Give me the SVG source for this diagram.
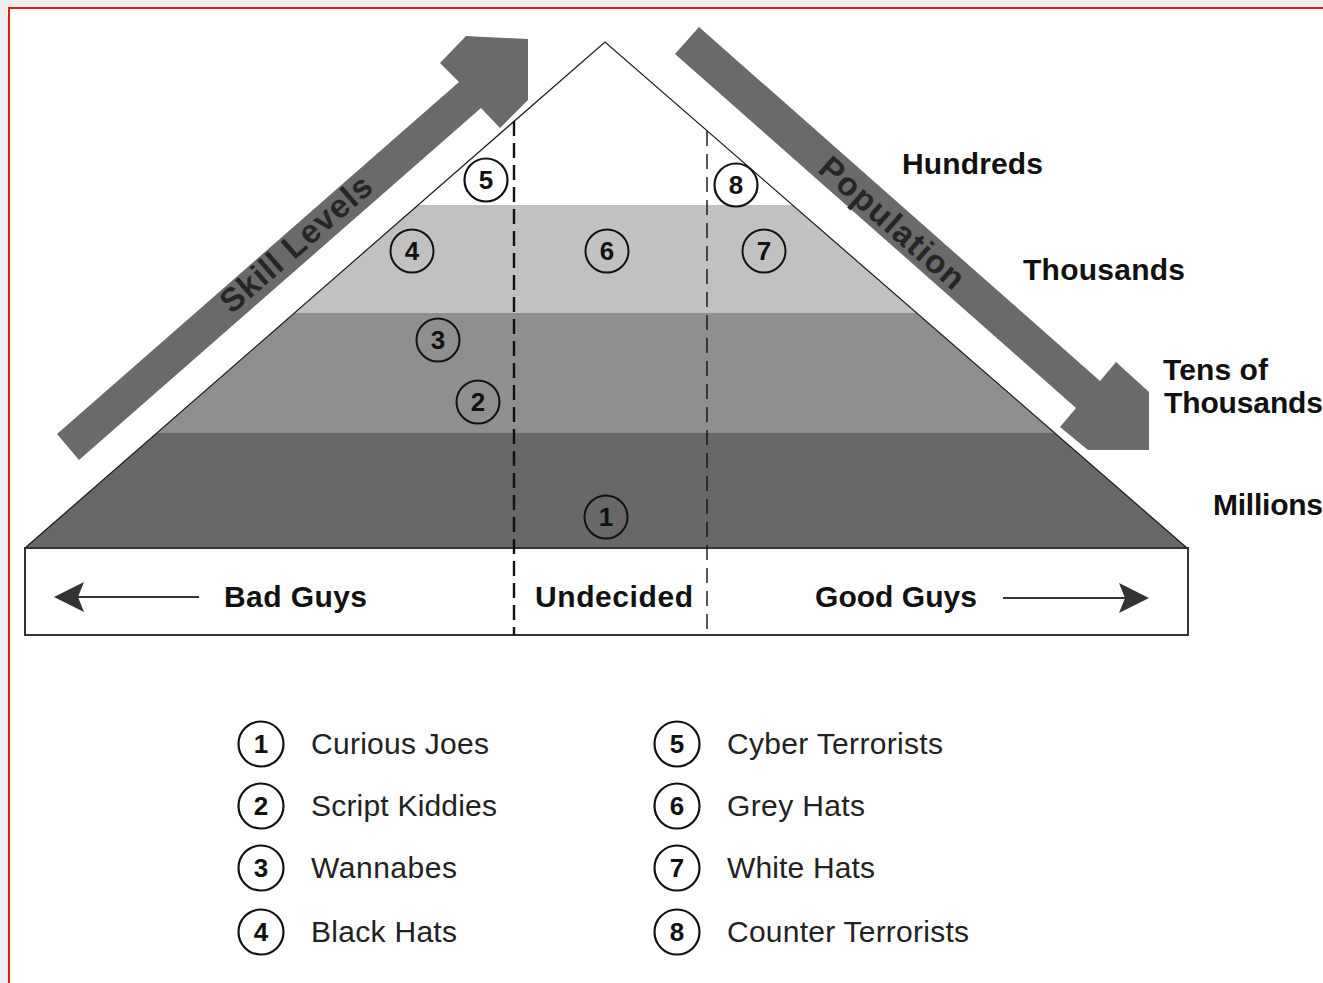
<svg xmlns="http://www.w3.org/2000/svg" width="1323" height="983" viewBox="0 0 1323 983">
  <style>
    .lbl { font-family: "Liberation Sans", Arial, sans-serif; font-weight: bold; font-size: 30px; fill: #111; }
    .bar { font-family: "Liberation Sans", Arial, sans-serif; font-weight: bold; font-size: 30px; fill: #111; }
    .leg { font-family: "Liberation Sans", Arial, sans-serif; font-size: 30px; fill: #222; }
    .num { font-family: "Liberation Sans", Arial, sans-serif; font-weight: bold; font-size: 26px; fill: #111; text-anchor: middle; }
    .ring { fill: none; stroke: #111; stroke-width: 2; }
    .ringw { fill: #fff; stroke: #111; stroke-width: 2.2; }
    .arrow { fill: #6a6a6a; }
    .atext { font-family: "Liberation Sans", Arial, sans-serif; font-weight: bold; font-size: 33px; fill: #262626; text-anchor: middle; }
  </style>
  <defs>
    <clipPath id="tri">
      <polygon points="605,42 25,548 1187,548"/>
    </clipPath>
    <marker id="head" viewBox="0 0 30 30" refX="28" refY="15" markerWidth="30" markerHeight="30" markerUnits="userSpaceOnUse" orient="auto-start-reverse">
      <polygon points="0,0 30,15 0,30 6,15" fill="#333"/>
    </marker>
  </defs>

  <!-- page and frame -->
  <rect x="0" y="0" width="1323" height="983" fill="#efefef"/>
  <rect x="10" y="9" width="1313" height="974" fill="#fff"/>
  <polyline points="9,983 9,8 1323,8" fill="none" stroke="#e41b1b" stroke-width="2"/>

  <!-- pyramid layers -->
  <g id="pyramid">
    <g clip-path="url(#tri)">
      <rect x="0" y="40" width="1323" height="165" fill="#fff"/>
      <rect x="0" y="205" width="1323" height="108" fill="#c1c1c1"/>
      <rect x="0" y="313" width="1323" height="120" fill="#8f8f8f"/>
      <rect x="0" y="433" width="1323" height="116" fill="#686868"/>
    </g>
    <polyline points="25,548 605,42 1187,548" fill="none" stroke="#1a1a1a" stroke-width="1.2"/>
  </g>

  <!-- side arrows -->
  <g id="skill-arrow">
    <polygon class="arrow" points="57,434 459,82 440,63 466,36 528,39 528,100 500,128 481,108 79,460"/>
    <text class="atext" transform="translate(296,244) rotate(-41.2)" y="11" textLength="190">Skill Levels</text>
  </g>
  <g id="population-arrow">
    <polygon class="arrow" points="675,54 699,27 1100,381 1116,362 1149,392 1149,450 1088,450 1060,427 1076,408"/>
    <text class="atext" transform="translate(892,223) rotate(41.4)" y="11" textLength="182">Population</text>
  </g>

  <!-- population labels -->
  <g id="population-labels">
    <text class="lbl" x="902" y="174" textLength="141">Hundreds</text>
    <text class="lbl" x="1023" y="280" textLength="162">Thousands</text>
    <text class="lbl" x="1163" y="380" textLength="105">Tens of</text>
    <text class="lbl" x="1164" y="413" textLength="159">Thousands</text>
    <text class="lbl" x="1213" y="515" textLength="110">Millions</text>
  </g>

  <!-- alignment bar -->
  <g id="alignment-bar">
    <rect x="25" y="548" width="1163" height="87" fill="#fff" stroke="#333" stroke-width="2"/>
    <text class="bar" x="224" y="607" textLength="143">Bad Guys</text>
    <text class="bar" x="535" y="607" textLength="158">Undecided</text>
    <text class="bar" x="815" y="607" textLength="162">Good Guys</text>
  </g>

  <!-- dividers and direction arrows -->
  <g id="connectors">
    <line x1="514" y1="121" x2="514" y2="635" stroke="#111" stroke-width="2.4" stroke-dasharray="15 7"/>
    <line x1="707" y1="131" x2="707" y2="635" stroke="#111" stroke-width="1.4" stroke-dasharray="15 8"/>
    <line x1="199" y1="597" x2="56" y2="597" stroke="#333" stroke-width="2" marker-end="url(#head)"/>
    <line x1="1003" y1="598" x2="1147" y2="598" stroke="#333" stroke-width="2" marker-end="url(#head)"/>
  </g>

  <!-- group markers on the pyramid -->
  <g id="marker-1"><circle class="ring" cx="606" cy="517" r="21.5"/><text class="num" x="606" y="526">1</text></g>
  <g id="marker-2"><circle class="ring" cx="478" cy="402" r="21.5"/><text class="num" x="478" y="411">2</text></g>
  <g id="marker-3"><circle class="ring" cx="438" cy="340" r="21.5"/><text class="num" x="438" y="349">3</text></g>
  <g id="marker-4"><circle class="ring" cx="412" cy="251" r="21.5"/><text class="num" x="412" y="260">4</text></g>
  <g id="marker-5"><circle class="ringw" cx="486" cy="180" r="21.5"/><text class="num" x="486" y="189">5</text></g>
  <g id="marker-6"><circle class="ring" cx="607" cy="251" r="21.5"/><text class="num" x="607" y="260">6</text></g>
  <g id="marker-7"><circle class="ring" cx="764" cy="251" r="21.5"/><text class="num" x="764" y="260">7</text></g>
  <g id="marker-8"><circle class="ringw" cx="736" cy="185" r="21.5"/><text class="num" x="736" y="194">8</text></g>

  <!-- legend -->
  <g id="legend-1"><circle class="ringw" cx="261" cy="744" r="22.5"/><text class="num" x="261" y="753">1</text><text class="leg" x="311" y="754" textLength="178">Curious Joes</text></g>
  <g id="legend-2"><circle class="ringw" cx="261" cy="806" r="22.5"/><text class="num" x="261" y="815">2</text><text class="leg" x="311" y="816" textLength="186">Script Kiddies</text></g>
  <g id="legend-3"><circle class="ringw" cx="261" cy="868" r="22.5"/><text class="num" x="261" y="877">3</text><text class="leg" x="311" y="878" textLength="146">Wannabes</text></g>
  <g id="legend-4"><circle class="ringw" cx="261" cy="932" r="22.5"/><text class="num" x="261" y="941">4</text><text class="leg" x="311" y="942" textLength="146">Black Hats</text></g>
  <g id="legend-5"><circle class="ringw" cx="677" cy="744" r="22.5"/><text class="num" x="677" y="753">5</text><text class="leg" x="727" y="754" textLength="216">Cyber Terrorists</text></g>
  <g id="legend-6"><circle class="ringw" cx="677" cy="806" r="22.5"/><text class="num" x="677" y="815">6</text><text class="leg" x="727" y="816" textLength="138">Grey Hats</text></g>
  <g id="legend-7"><circle class="ringw" cx="677" cy="868" r="22.5"/><text class="num" x="677" y="877">7</text><text class="leg" x="727" y="878" textLength="148">White Hats</text></g>
  <g id="legend-8"><circle class="ringw" cx="677" cy="932" r="22.5"/><text class="num" x="677" y="941">8</text><text class="leg" x="727" y="942" textLength="242">Counter Terrorists</text></g>
</svg>
